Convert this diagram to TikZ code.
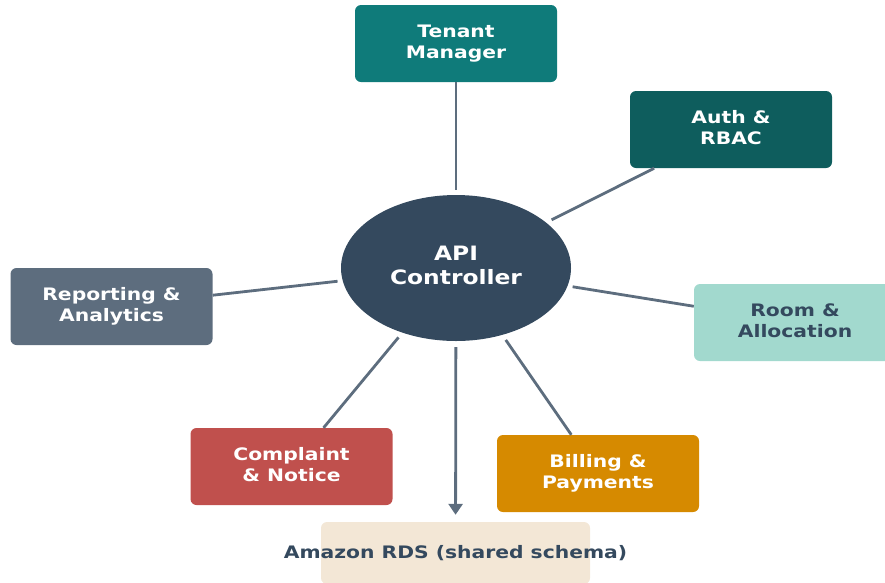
\documentclass[tikz,border=0pt]{standalone}
\usepackage{fontspec}
\setmainfont{DejaVu Sans}
\usepackage{graphicx}
\usetikzlibrary{shapes.geometric,arrows.meta}
\definecolor{tenantc}{HTML}{0F7B7A}
\definecolor{authc}{HTML}{0E5D5D}
\definecolor{ctrlc}{HTML}{34495E}
\definecolor{repc}{HTML}{5D6D7E}
\definecolor{roomc}{HTML}{A2D9CE}
\definecolor{compc}{HTML}{C0504D}
\definecolor{billc}{HTML}{D68A00}
\definecolor{rdsc}{HTML}{F3E7D6}
\definecolor{linkc}{HTML}{5D6D7E}
\newcommand\sxtext[1]{\scalebox{1.18}[1]{\begin{tabular}{@{}c@{}}#1\end{tabular}}}
\begin{document}
\begin{tikzpicture}[x=1pt,y=-1pt,
  modbox/.style={rectangle, rounded corners=6pt, minimum width=202pt, minimum height=77pt,
    inner sep=0pt, font=\bfseries\fontsize{17.2}{21}\selectfont, text=white},
  link/.style={draw=linkc, line width=2.8pt}]
\useasboundingbox (0,0) rectangle (885,582);
\clip (0,0) rectangle (885,582);

\node[ellipse, fill=ctrlc, minimum width=230pt, minimum height=146pt, inner sep=0pt,
  text=white, font=\bfseries\fontsize{19.8}{23.5}\selectfont] (api) at (456,268)
  {\sxtext{API\\Controller}};

\node[modbox, fill=tenantc] (tenant) at (456,43.5) {\sxtext{Tenant\\Manager}};
\node[modbox, fill=authc] (auth) at (731,129.5) {\sxtext{Auth \&\\RBAC}};
\node[modbox, fill=repc] (rep) at (111.5,306.5) {\sxtext{Reporting \&\\Analytics}};
\node[modbox, fill=roomc, text=ctrlc] (room) at (795,322.5) {\sxtext{Room \&\\Allocation}};
\node[modbox, fill=compc] (comp) at (291.5,466.5) {\sxtext{Complaint\\\& Notice}};
\node[modbox, fill=billc] (bill) at (598,473.5) {\sxtext{Billing \&\\Payments}};
\node[rectangle, rounded corners=6pt, minimum width=269pt, minimum height=62pt, inner sep=0pt,
  fill=rdsc, text=ctrlc, font=\bfseries\fontsize{17.2}{21}\selectfont] (rds) at (455.5,553)
  {\makebox[0pt]{\scalebox{1.18}[1]{Amazon RDS (shared schema)}}};

\draw[link, shorten <=5pt] (api) -- (tenant);
\draw[link, shorten <=6pt] (api) -- (auth);
\draw[link, shorten <=5pt] (api) -- (rep);
\draw[link, shorten <=5pt] (api) -- (room);
\draw[link, shorten <=6pt] (api) -- (comp);
\draw[link, shorten <=6pt] (api) -- (bill);
\draw[link, -{Triangle[width=14pt,length=11pt]}, shorten <=6pt, shorten >=7pt] (api) -- (rds);
\end{tikzpicture}
\end{document}
